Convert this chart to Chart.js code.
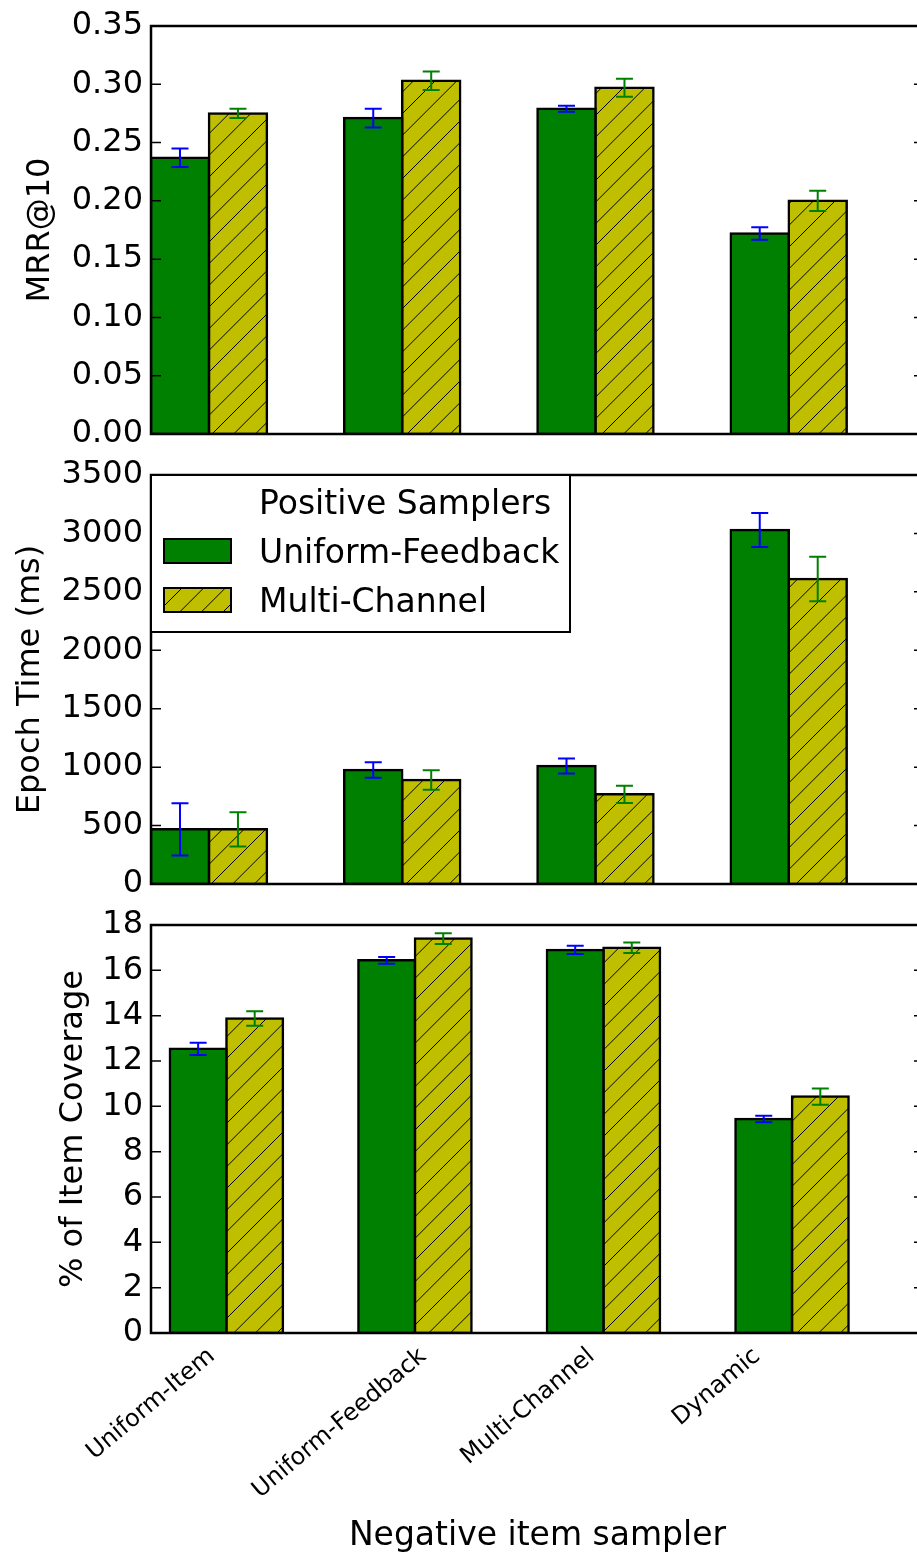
<!DOCTYPE html>
<html><head><meta charset="utf-8">
<script src="https://cdn.jsdelivr.net/npm/chart.js@4.4.0/dist/chart.umd.min.js"></script>
<style>
html,body{margin:0;padding:0;background:#fff;overflow:hidden;width:917px;height:1556px;}
.panel{position:absolute;left:0;}
canvas{display:block;}
</style></head><body>
<div class="panel" style="top:-4px"><canvas id="c1" width="940" height="468"></canvas></div>
<div class="panel" style="top:445px"><canvas id="c2" width="940" height="469"></canvas></div>
<div class="panel" style="top:895px"><canvas id="c3" width="940" height="661"></canvas></div>
<script>
// ---------- data ----------
const categories = ['Uniform-Item', 'Uniform-Feedback', 'Multi-Channel', 'Dynamic'];
const seriesNames = ['Uniform-Feedback', 'Multi-Channel'];
const legendTitle = 'Positive Samplers';
const groupCenters = [0.3, 1.3, 2.3, 3.3];
const labelPositions = [-0.1, 0.9, 1.9, 2.9];

const mrrUniform = [0.237, 0.271, 0.279, 0.172];
const mrrUniformErr = [0.008, 0.008, 0.0026, 0.0054];
const mrrMulti = [0.275, 0.303, 0.297, 0.200];
const mrrMultiErr = [0.004, 0.008, 0.0077, 0.0087];

const timeUniform = [468, 975, 1010, 3029];
const timeUniformErr = [224, 66, 64, 145];
const timeMulti = [468, 890, 767, 2610];
const timeMultiErr = [147, 83, 73, 190];

const covUniform = [12.54, 16.44, 16.90, 9.44];
const covUniformErr = [0.27, 0.15, 0.18, 0.14];
const covMulti = [13.88, 17.40, 17.00, 10.43];
const covMultiErr = [0.32, 0.235, 0.23, 0.36];

const mrrTicks = [0, 0.05, 0.10, 0.15, 0.20, 0.25, 0.30, 0.35];
const timeTicks = [0, 500, 1000, 1500, 2000, 2500, 3000, 3500];
const covTicks = [0, 2, 4, 6, 8, 10, 12, 14, 16, 18];

const yTitles = ['MRR@10', 'Epoch Time (ms)', '% of Item Coverage'];
const xTitle = 'Negative item sampler';

// ---------- styling ----------
Chart.defaults.font.family = '"DejaVu Sans", sans-serif';
Chart.defaults.color = '#000';

function makeHatch() {
  const s = 65;
  const c = document.createElement('canvas');
  c.width = s; c.height = s;
  const g = c.getContext('2d');
  g.fillStyle = '#bfbf00';
  g.fillRect(0, 0, s, s);
  g.strokeStyle = '#000';
  g.lineWidth = 1;
  const step = s / 3;
  for (let k = 0; k <= 6; k++) {
    const d = k * step;
    g.beginPath();
    g.moveTo(d + 1, -1);
    g.lineTo(d - s - 1, s + 1);
    g.stroke();
  }
  return g.createPattern(c, 'repeat');
}
const hatch = makeHatch();

const errorBarPlugin = {
  id: 'errbars',
  afterDatasetsDraw(chart) {
    const ctx = chart.ctx, ys = chart.scales.y;
    chart.data.datasets.forEach((ds, i) => {
      const meta = chart.getDatasetMeta(i);
      ctx.save();
      ctx.strokeStyle = ds.errColor;
      ctx.lineWidth = 2;
      meta.data.forEach((el, j) => {
        const v = ds.data[j].y, e = ds.errors[j];
        const yTop = ys.getPixelForValue(v + e), yBot = ys.getPixelForValue(v - e);
        const x = el.x;
        ctx.beginPath();
        ctx.moveTo(x, yTop); ctx.lineTo(x, yBot);
        ctx.moveTo(x - 8.5, yTop); ctx.lineTo(x + 8.5, yTop);
        ctx.moveTo(x - 8.5, yBot); ctx.lineTo(x + 8.5, yBot);
        ctx.stroke();
      });
      ctx.restore();
    });
  }
};

const framePlugin = {
  id: 'frame',
  afterDatasetsDraw(chart) {
    const ctx = chart.ctx, a = chart.chartArea, ys = chart.scales.y;
    ctx.save();
    ctx.strokeStyle = '#000';
    ctx.lineWidth = 1.5;
    ys.ticks.forEach(t => {
      const y = ys.getPixelForValue(t.value);
      ctx.beginPath();
      ctx.moveTo(a.left, y); ctx.lineTo(a.left + 10, y);
      ctx.moveTo(a.right - 10, y); ctx.lineTo(a.right, y);
      ctx.stroke();
    });
    ctx.lineWidth = 2.5;
    ctx.strokeRect(a.left, a.top, a.right - a.left, a.bottom - a.top);
    ctx.restore();
  }
};

const legendPlugin = {
  id: 'boxLegend',
  afterDraw(chart) {
    const ctx = chart.ctx, a = chart.chartArea;
    const x0 = a.left, y0 = a.top, w = 419, h = 157;
    ctx.save();
    ctx.fillStyle = '#fff';
    ctx.fillRect(x0, y0, w, h);
    ctx.strokeStyle = '#000';
    ctx.lineWidth = 2;
    ctx.strokeRect(x0, y0, w, h);
    ctx.font = '33px "DejaVu Sans"';
    ctx.textAlign = 'left';
    ctx.textBaseline = 'alphabetic';
    ctx.fillStyle = '#000';
    ctx.fillText(legendTitle, x0 + 108, y0 + 39);
    chart.data.datasets.forEach((ds, i) => {
      const sy = y0 + 64 + i * 49;
      ctx.fillStyle = ds.backgroundColor;
      ctx.fillRect(x0 + 13, sy, 67, 24);
      ctx.lineWidth = 2;
      ctx.strokeStyle = '#000';
      ctx.strokeRect(x0 + 13, sy, 67, 24);
      ctx.fillStyle = '#000';
      ctx.fillText(ds.label, x0 + 108, sy + 24);
    });
    ctx.restore();
  }
};

const xLabelPlugin = {
  id: 'xlabels',
  afterDraw(chart) {
    const ctx = chart.ctx, a = chart.chartArea, xs = chart.scales.x;
    const fs = 24, ang = 40 * Math.PI / 180;
    ctx.save();
    ctx.font = fs + 'px "DejaVu Sans"';
    ctx.fillStyle = '#000';
    ctx.textAlign = 'center';
    ctx.textBaseline = 'middle';
    categories.forEach((lab, i) => {
      const w = ctx.measureText(lab).width;
      const H = w * Math.sin(ang) + 0.9 * fs * Math.cos(ang);
      const cx = xs.getPixelForValue(labelPositions[i]);
      const cy = a.bottom + 12 + H / 2;
      ctx.save();
      ctx.translate(cx, cy);
      ctx.rotate(-ang);
      ctx.fillText(lab, 0, 0);
      ctx.restore();
    });
    ctx.restore();
  }
};

function makeChart(cfg) {
  const mkDs = (label, vals, errs, bg, errColor) => ({
    label: label,
    data: groupCenters.map((x, i) => ({ x: x, y: vals[i] })),
    backgroundColor: bg,
    borderColor: '#000',
    borderWidth: 2.5,
    inflateAmount: 1.25,
    borderSkipped: false,
    categoryPercentage: 0.6,
    barPercentage: 1,
    errors: errs,
    errColor: errColor
  });
  return new Chart(document.getElementById(cfg.id), {
    type: 'bar',
    data: {
      datasets: [
        mkDs(seriesNames[0], cfg.u, cfg.ue, '#008000', '#0000ff'),
        mkDs(seriesNames[1], cfg.m, cfg.me, hatch, '#008000')
      ]
    },
    options: {
      responsive: false,
      animation: false,
      events: [],
      layout: { padding: { top: cfg.padTop, right: 16, left: 0, bottom: 0 }, autoPadding: false },
      plugins: { legend: { display: false }, tooltip: { enabled: false } },
      scales: {
        x: {
          type: 'linear',
          min: cfg.xMin, max: 4,
          offset: false,
          bounds: 'data',
          grid: { display: false, drawTicks: false },
          border: { display: false },
          ticks: { display: false },
          afterBuildTicks: s => { s.ticks = groupCenters.map(v => ({ value: v })); },
          afterFit: s => { s.height = cfg.xHeight; },
          title: cfg.xTitle ? {
            display: true, text: cfg.xTitle, color: '#000',
            font: { size: 33 }, padding: { top: 0, bottom: 0 }
          } : { display: false }
        },
        y: {
          type: 'linear',
          min: 0, max: cfg.yTicks[cfg.yTicks.length - 1],
          bounds: 'data',
          grid: { display: false, drawTicks: false },
          border: { display: false },
          ticks: {
            color: '#000',
            font: { size: 32 },
            padding: 8,
            callback: v => cfg.fmt(v)
          },
          afterBuildTicks: s => { s.ticks = cfg.yTicks.map(v => ({ value: v })); },
          afterFit: s => { s.width = 151; },
          title: {
            display: true, text: cfg.yTitle, color: '#000',
            font: { size: 32 }, padding: { top: cfg.titlePad, bottom: 0 }
          }
        }
      }
    },
    plugins: [errorBarPlugin, framePlugin].concat(cfg.extra || [])
  });
}

makeChart({
  id: 'c1', u: mrrUniform, ue: mrrUniformErr, m: mrrMulti, me: mrrMultiErr,
  yTicks: mrrTicks, fmt: v => v.toFixed(2), yTitle: yTitles[0], titlePad: 21,
  padTop: 30, xHeight: 30, xMin: 0
});
makeChart({
  id: 'c2', u: timeUniform, ue: timeUniformErr, m: timeMulti, me: timeMultiErr,
  yTicks: timeTicks, fmt: v => String(v), yTitle: yTitles[1], titlePad: 11,
  padTop: 30, xHeight: 30, xMin: 0, extra: [legendPlugin]
});
makeChart({
  id: 'c3', u: covUniform, ue: covUniformErr, m: covMulti, me: covMultiErr,
  yTicks: covTicks, fmt: v => String(v), yTitle: yTitles[2], titlePad: 54,
  padTop: 30, xHeight: 223, xMin: -0.1, xTitle: xTitle, extra: [xLabelPlugin]
});
</script>
</body></html>
